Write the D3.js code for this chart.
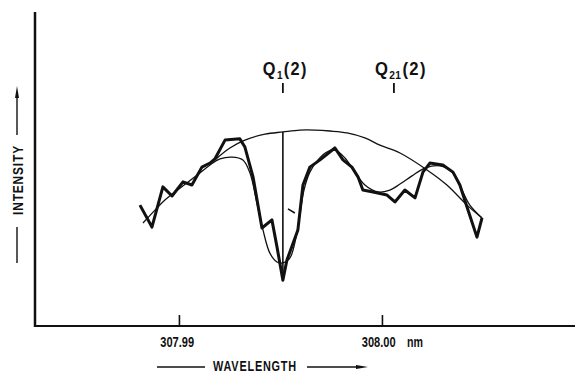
<!DOCTYPE html>
<html>
<head>
<meta charset="utf-8">
<script src="https://cdn.jsdelivr.net/npm/d3@7"></script>
<style>
  body { margin: 0; background: #fff; }
  text { font-family: "Liberation Sans", Arial, sans-serif; font-weight: bold; fill: #111; }
</style>
</head>
<body>
<script>
// measured spectrum (thick trace)
const obsWl = [307.98808, 307.98867, 307.98921, 307.98966, 307.99020, 307.99064, 307.99113, 307.99153,
  307.99177, 307.99227, 307.99300, 307.99325, 307.99365, 307.99409, 307.99458, 307.99483, 307.99512,
  307.99532, 307.99586, 307.99611, 307.99645, 307.99695, 307.99768, 307.99808, 307.99852, 307.99882,
  307.99906, 307.99956, 308.00025, 308.00064, 308.00113, 308.00163, 308.00202, 308.00236, 308.00300,
  308.00350, 308.00384, 308.00419, 308.00468, 308.00493];
const obsInt = [38.5, 31.5, 44.3, 41.4, 45.9, 44.9, 50.6, 51.9,
  53.2, 59.2, 59.6, 57.0, 47.5, 31.2, 33.8, 25.2, 14.6,
  21.0, 30.6, 44.9, 50.6, 52.9, 56.7, 52.9, 50.6, 47.5,
  43.3, 42.7, 41.7, 39.5, 43.3, 40.8, 49.0, 51.9, 51.3,
  49.0, 44.9, 37.9, 28.3, 34.4];

// fitted profile (thin trace)
const fitWl = [307.98823, 307.98882, 307.98931, 307.99005, 307.99079, 307.99153, 307.99202, 307.99261,
  307.99315, 307.99350, 307.99384, 307.99414, 307.99448, 307.99483, 307.99512, 307.99547, 307.99576,
  307.99596, 307.99616, 307.99645, 307.99685, 307.99729, 307.99768, 307.99818, 307.99867, 307.99916,
  307.99980, 308.00039, 308.00089, 308.00148, 308.00212, 308.00286, 308.00345, 308.00394, 308.00433,
  308.00493];
const fitInt = [32.8, 36.9, 40.1, 43.9, 47.5, 51.3, 53.2, 53.8,
  52.9, 48.7, 39.2, 30.6, 23.2, 20.4, 20.1, 21.7, 28.0,
  35.4, 43.3, 49.0, 52.9, 55.4, 56.1, 53.5, 49.0, 44.9,
  42.7, 43.3, 45.2, 47.8, 50.3, 51.0, 49.0, 43.3, 38.5,
  34.4];

// envelope (unabsorbed continuum)
const envWl = [307.99177, 307.99251, 307.99325, 307.99424, 307.99512, 307.99596, 307.99670, 307.99744,
  307.99828, 307.99916, 307.99990, 308.00089, 308.00222, 308.00320, 308.00419, 308.00493];
const envInt = [52.9, 56.7, 59.2, 61.1, 61.8, 62.4, 62.4, 62.1,
  61.5, 59.9, 57.6, 55.1, 49.7, 44.9, 38.5, 34.4];

// line positions
const lineNames = ["Q", "Q"];
const lineSubs = ["1", "21"];
const lineWl = [307.99512, 308.00059];

// depth bar at Q1(2)
const depthWl = 307.99512;
const depthTop = 61.8;
const depthBottom = 14.6;
const dashWl = [307.99537, 307.99571];
const dashInt = [37.3, 36.0];

const tickVals = [307.99, 308.00];

const width = 575, height = 373;

const x = d3.scaleLinear().domain([307.98291, 308.00951]).range([35, 575]);
const y = d3.scaleLinear().domain([0, 100]).range([326, 12]);

const svg = d3.select("body").append("svg")
  .attr("width", width)
  .attr("height", height);

// squeeze a text (or group of tspans) to a target width, like the narrow lettering of the plot
function narrow(g, x0, y0, w, rot) {
  const bw = g.select("text").node().getBBox().width;
  g.attr("transform", `translate(${x0},${y0})${rot ? " rotate(-90)" : ""} scale(${w / bw},1)`);
}

// axes lines
svg.append("line")
  .attr("x1", 35).attr("x2", 35)
  .attr("y1", y(100)).attr("y2", y(0) + 1)
  .attr("stroke", "#111").attr("stroke-width", 2.5);
svg.append("line")
  .attr("x1", 34).attr("x2", width)
  .attr("y1", y(0)).attr("y2", y(0))
  .attr("stroke", "#111").attr("stroke-width", 2.2);

const xAxis = svg.append("g")
  .attr("transform", `translate(0,${y(0)})`)
  .call(d3.axisBottom(x).tickValues(tickVals).tickSize(-11).tickPadding(10).tickFormat(d3.format(".2f")));
xAxis.select(".domain").remove();
xAxis.selectAll(".tick line").attr("stroke", "#111").attr("stroke-width", 1.6);
xAxis.selectAll(".tick text")
  .attr("fill", "#111")
  .attr("dx", (d, i) => i === 0 ? -3 : -5)
  .style("font-family", "Liberation Sans, sans-serif")
  .style("font-weight", "bold")
  .style("font-size", "15px")
  .attr("transform", "scale(0.74,1)");

const nm = svg.append("g");
nm.append("text").style("font-size", "14px").text("nm");
narrow(nm, 407, 347, 16);

// curves
const line = d3.line().x(d => x(d[0])).y(d => y(d[1]));
const smooth = d3.line().x(d => x(d[0])).y(d => y(d[1])).curve(d3.curveCatmullRom);

svg.append("path")
  .datum(envWl.map((w, i) => [w, envInt[i]]))
  .attr("d", smooth)
  .attr("fill", "none").attr("stroke", "#111").attr("stroke-width", 1.3);

svg.append("path")
  .datum(fitWl.map((w, i) => [w, fitInt[i]]))
  .attr("d", smooth)
  .attr("fill", "none").attr("stroke", "#111").attr("stroke-width", 1.3);

svg.append("path")
  .datum(obsWl.map((w, i) => [w, obsInt[i]]))
  .attr("d", line)
  .attr("fill", "none").attr("stroke", "#111").attr("stroke-width", 3)
  .attr("stroke-linejoin", "round");

svg.append("line")
  .attr("x1", x(depthWl)).attr("x2", x(depthWl))
  .attr("y1", y(depthTop)).attr("y2", y(depthBottom))
  .attr("stroke", "#111").attr("stroke-width", 1.6);

svg.append("line")
  .attr("x1", x(dashWl[0])).attr("x2", x(dashWl[1]))
  .attr("y1", y(dashInt[0])).attr("y2", y(dashInt[1]))
  .attr("stroke", "#111").attr("stroke-width", 1.6);

// line labels
const labelW = [45, 52];
const labelOff = [20, 19];
lineWl.forEach((w, i) => {
  const cx = x(w);
  svg.append("line")
    .attr("x1", cx).attr("x2", cx)
    .attr("y1", 83).attr("y2", 93)
    .attr("stroke", "#111").attr("stroke-width", 1.8);
  const g = svg.append("g");
  const t = g.append("text")
    .style("font-size", "18px")
    .style("letter-spacing", "1.5px");
  t.append("tspan").text(lineNames[i]);
  t.append("tspan").attr("dy", 4).style("font-size", "11px").style("letter-spacing", "0.5px").text(lineSubs[i]);
  t.append("tspan").attr("dy", -4).attr("dx", 1).text("(2)");
  narrow(g, cx - labelOff[i], 75, labelW[i]);
});

// axis titles
const wl = svg.append("g");
wl.append("text").style("font-size", "14px").style("letter-spacing", "1px").text("WAVELENGTH");
narrow(wl, 213, 371, 84);
svg.append("line").attr("x1", 157).attr("x2", 205).attr("y1", 367).attr("y2", 367)
  .attr("stroke", "#111").attr("stroke-width", 1.4);
svg.append("line").attr("x1", 307).attr("x2", 362).attr("y1", 367).attr("y2", 367)
  .attr("stroke", "#111").attr("stroke-width", 1.4);
svg.append("path").attr("d", "M356,365 L368,367 L356,369 Z").attr("fill", "#111");

const it = svg.append("g");
it.append("text").style("font-size", "14px").style("letter-spacing", "1px").text("INTENSITY");
narrow(it, 23, 215, 70, true);
svg.append("line").attr("x1", 17).attr("x2", 17).attr("y1", 227).attr("y2", 263)
  .attr("stroke", "#111").attr("stroke-width", 1.4);
svg.append("line").attr("x1", 17).attr("x2", 17).attr("y1", 92).attr("y2", 135)
  .attr("stroke", "#111").attr("stroke-width", 1.4);
svg.append("path").attr("d", "M15,98 L17,86 L19,98 Z").attr("fill", "#111");
</script>
</body>
</html>
